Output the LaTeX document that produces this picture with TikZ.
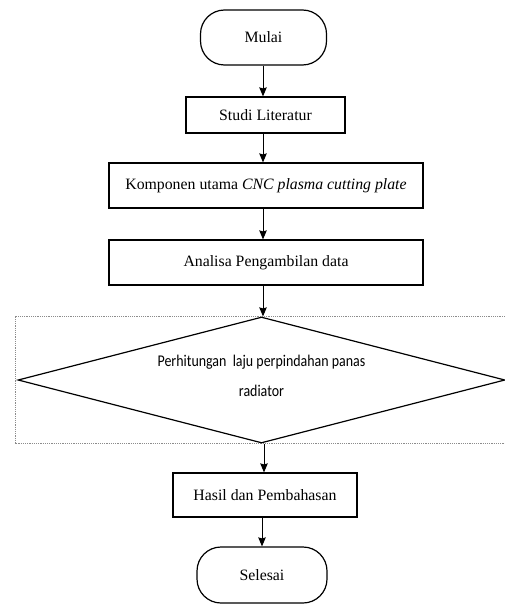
\documentclass[tikz,border=0pt]{standalone}
\usepackage{fontspec}
\setmainfont{Liberation Serif}
\newfontfamily\calibrifont{Carlito}[FakeStretch=0.85]
\usepackage{tikz}
\usetikzlibrary{arrows.meta,positioning,shapes.geometric}

\begin{document}
\begin{tikzpicture}[
  x=1pt, y=-1pt,
  >={Stealth[length=9pt,width=7.5pt,inset=1pt]},
  box/.style={draw, line width=1.2pt, inner sep=0pt, align=center,
              font=\fontsize{15.8}{19}\selectfont},
  terminal/.style={box, rounded corners=24pt},
  decision/.style={draw, diamond, line width=1.2pt, inner sep=0pt,
                   minimum width=487pt, minimum height=126pt},
  dtext/.style={align=center, font=\calibrifont\fontsize{16.4}{30}\selectfont},
  frame/.style={draw=black!45, line width=0.8pt, dash pattern=on 1.2pt off 1pt},
  flow/.style={->, line width=1pt},
]
\useasboundingbox (0,0) rectangle (505,604);

% Start
\node[terminal, minimum width=126pt, minimum height=55pt] (mulai) at (263.5,37.5) {Mulai};

% Process steps
\node[box, minimum width=159pt, minimum height=36pt] (studi) at (265.5,115) {Studi Literatur};
\node[box, minimum width=314pt, minimum height=45pt] (komp) at (266,185.5)
  {Komponen utama \textit{CNC plasma cutting plate}};
\node[box, minimum width=314pt, minimum height=45pt] (analisa) at (266,262.5)
  {Analisa Pengambilan data};

% Decision with dotted frame
\draw[frame] (505,316) -- (15,316) -- (15,443) -- (505,443);
\node[decision] (hitung) at (261.5,380) {};
\node[dtext] (hitungtxt) at ([yshift=4pt]hitung.center)
  {Perhitungan\ \ laju perpindahan panas\\radiator};

% Result and end
\node[box, minimum width=184pt, minimum height=44pt] (hasil) at (265,495) {Hasil dan Pembahasan};
\node[terminal, minimum width=130pt, minimum height=56pt] (selesai) at (262,575) {Selesai};

% Arrows (kept vertical)
\draw[flow] ([xshift=-0.5pt]mulai.south) -- ([xshift=-0.5pt]mulai.south |- studi.north);
\draw[flow] ([xshift=-2.5pt]studi.south) -- ([xshift=-2.5pt]studi.south |- komp.north);
\draw[flow] ([xshift=-3pt]komp.south) -- ([xshift=-3pt]komp.south |- analisa.north);
\draw[flow] ([xshift=-3pt]analisa.south) -- ([xshift=-3pt]analisa.south |- hitung.north);
\draw[flow] ([xshift=2.5pt]hitung.south) -- ([xshift=2.5pt]hitung.south |- hasil.north);
\draw[flow] ([xshift=-3pt]hasil.south) -- ([xshift=-3pt]hasil.south |- selesai.north);
\end{tikzpicture}
\end{document}
